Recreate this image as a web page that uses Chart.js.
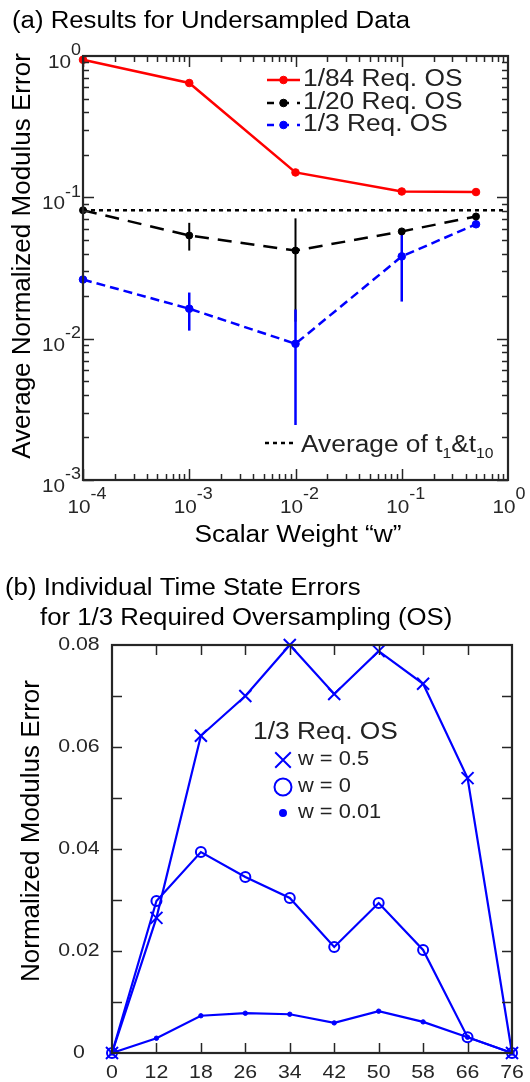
<!DOCTYPE html>
<html>
<head>
<meta charset="utf-8">
<script src="https://cdn.jsdelivr.net/npm/chart.js@4.4.1/dist/chart.umd.min.js"></script>
<style>
  html, body { margin: 0; padding: 0; background: #fff; }
  #page { position: relative; width: 530px; height: 1082px; overflow: hidden; }
  canvas { position: absolute; left: 0; }
</style>
</head>
<body>
<div id="page">
  <canvas id="chartA" width="530" height="560" style="top:0;width:530px;height:560px"></canvas>
  <canvas id="chartB" width="530" height="522" style="top:560px;width:530px;height:522px"></canvas>
</div>
<script>
// (a) average error vs scalar weight
const weights = [1e-4, 1e-3, 1e-2, 1e-1, 0.5];
const os84 = [0.94, 0.644, 0.150, 0.110, 0.109];
const os20 = [0.081, 0.0537, 0.042, 0.0574, 0.0732];
const os20Low = [null, 0.042, 0.0132, null, null];
const os20High = [null, 0.066, 0.071, null, null];
const os3 = [0.0262, 0.0163, 0.0092, 0.0382, 0.0645];
const os3Low = [null, 0.0114, 0.00245, 0.0183, null];
const os3High = [null, 0.0212, 0.0161, 0.0574, null];
const avgT1T10 = 0.081;
const decadesX = [1e-4, 1e-3, 1e-2, 1e-1, 1];
const decadesY = [1e-3, 1e-2, 1e-1, 1];

// (b) individual time state errors
const timeStates = ["0", "12", "18", "26", "34", "42", "50", "58", "66", "76"];
const errW05 = [0, 0.0265, 0.0622, 0.0700, 0.0800, 0.0704, 0.0788, 0.0724, 0.0539, 0];
const errW0 = [0, 0.0298, 0.0394, 0.0345, 0.0304, 0.0208, 0.0294, 0.0202, 0.0031, 0];
const errW001 = [0, 0.0029, 0.0073, 0.0078, 0.0076, 0.0059, 0.0082, 0.0061, 0.0031, 0];
const errTicks = [0, 0.02, 0.04, 0.06, 0.08];

const FONT = '"Liberation Sans", Arial, Helvetica, sans-serif';
const AXIS = "#262626";
const SX = 1.12;
Chart.defaults.font.family = FONT;

// draw horizontally widened text, returns width
function txt(ctx, s, x, y, size, align, color, sx) {
  sx = sx || SX;
  ctx.save();
  ctx.font = size + "px " + FONT;
  ctx.textBaseline = "middle";
  ctx.textAlign = "left";
  ctx.fillStyle = color || "#000";
  const w = ctx.measureText(s).width * sx;
  const x0 = align === "center" ? x - w / 2 : align === "right" ? x - w : x;
  ctx.translate(x0, y);
  ctx.scale(sx, 1);
  ctx.fillText(s, 0, 0);
  ctx.restore();
  return w;
}

function vtxt(ctx, s, x, y, size) {
  ctx.save();
  ctx.font = size + "px " + FONT;
  ctx.textBaseline = "middle";
  ctx.textAlign = "center";
  ctx.fillStyle = "#000";
  ctx.translate(x, y);
  ctx.rotate(-Math.PI / 2);
  ctx.fillText(s, 0, 0);
  ctx.restore();
}

function seg(ctx, x1, y1, x2, y2) {
  ctx.beginPath();
  ctx.moveTo(x1, y1);
  ctx.lineTo(x2, y2);
  ctx.stroke();
}

function measure(ctx, s, size) {
  ctx.save();
  ctx.font = size + "px " + FONT;
  const w = ctx.measureText(s).width * SX;
  ctx.restore();
  return w;
}

const errorBars = {
  id: "errorBars",
  beforeDatasetsDraw(chart) {
    const { ctx, scales: { x, y } } = chart;
    const sets = [
      { lo: os20Low, hi: os20High, color: "#000", width: 2 },
      { lo: os3Low, hi: os3High, color: "#0000ff", width: 2.5 },
    ];
    ctx.save();
    sets.forEach((s) => {
      ctx.strokeStyle = s.color;
      ctx.lineWidth = s.width;
      weights.forEach((w, i) => {
        if (s.lo[i] == null) return;
        const px = x.getPixelForValue(w);
        seg(ctx, px, y.getPixelForValue(s.lo[i]), px, y.getPixelForValue(s.hi[i]));
      });
    });
    ctx.restore();
  },
};

const frameA = {
  id: "frameA",
  afterDraw(chart) {
    const { ctx, chartArea: a, scales: { x, y } } = chart;
    const ds = chart.data.datasets;
    ctx.save();
    ctx.strokeStyle = AXIS;
    ctx.lineWidth = 1.5;
    for (let d = -4; d < 0; d++) {
      for (let m = 1; m <= 9; m++) {
        const px = Math.round(x.getPixelForValue(m * Math.pow(10, d))) + 0.5;
        const len = m === 1 ? 11 : 6;
        seg(ctx, px, a.bottom, px, a.bottom - len);
        seg(ctx, px, a.top, px, a.top + len);
      }
    }
    for (let d = -3; d < 0; d++) {
      for (let m = 1; m <= 9; m++) {
        const py = Math.round(y.getPixelForValue(m * Math.pow(10, d))) + 0.5;
        const len = m === 1 ? 11 : 6;
        seg(ctx, a.left, py, a.left + len, py);
        seg(ctx, a.right, py, a.right - len, py);
      }
    }
    ctx.lineWidth = 2.2;
    ctx.strokeRect(a.left, a.top, a.right - a.left, a.bottom - a.top);

    // tick labels 10^n
    decadesX.forEach((v) => {
      const px = x.getPixelForValue(v);
      const e = String(Math.round(Math.log10(v)));
      const w10 = measure(ctx, "10", 18.5);
      const x0 = px - 4 - w10 / 2;
      txt(ctx, "10", x0, a.bottom + 28, 18.5, "left", AXIS);
      txt(ctx, e, x0 + w10, a.bottom + 15, 16, "left", AXIS);
    });
    decadesY.forEach((v) => {
      const py = y.getPixelForValue(v);
      const e = String(Math.round(Math.log10(v)));
      const we = measure(ctx, e, 16);
      txt(ctx, e, 81, py - 5, 16, "right", AXIS);
      txt(ctx, "10", 81 - we, py + 7, 18.5, "right", AXIS);
    });

    // titles
    txt(ctx, "(a) Results for Undersampled Data", 12, 22, 23, "left", "#000");
    txt(ctx, "Scalar Weight \u201cw\u201d", 298, 536, 23.5, "center", "#000");
    vtxt(ctx, "Average Normalized Modulus Error", 23, 256, 26);

    // legend
    const rows = [80, 103, 125];
    [0, 1, 2].forEach((i) => {
      const d = ds[i];
      const yy = rows[i];
      ctx.strokeStyle = d.borderColor;
      ctx.lineWidth = d.borderWidth;
      ctx.setLineDash(i === 0 ? [] : [7, 8]);
      seg(ctx, 267, yy, 300, yy);
      ctx.setLineDash([]);
      ctx.fillStyle = d.pointBackgroundColor;
      ctx.strokeStyle = d.borderColor;
      ctx.lineWidth = 1;
      Chart.helpers.drawPoint(ctx, { pointStyle: "circle", radius: 3.8, borderWidth: 1, rotation: 0 }, 283.5, yy);
      txt(ctx, d.label, 303, yy, 23.5, "left", "#222");
    });
    const ay = 446;
    ctx.strokeStyle = "#000";
    ctx.lineWidth = 2.5;
    ctx.setLineDash([4, 4]);
    seg(ctx, 265, ay - 3, 297, ay - 3);
    ctx.setLineDash([]);
    let tx = 301;
    tx += txt(ctx, "Average of t", tx, ay, 23.5, "left", "#222");
    tx += txt(ctx, "1", tx, ay + 8, 14, "left", "#222");
    tx += txt(ctx, "&t", tx, ay, 23.5, "left", "#222");
    txt(ctx, "10", tx, ay + 8, 14, "left", "#222");
    ctx.restore();
  },
};

const frameB = {
  id: "frameB",
  afterDraw(chart) {
    const { ctx, chartArea: a, scales: { x, y } } = chart;
    ctx.save();
    ctx.strokeStyle = AXIS;
    ctx.lineWidth = 1.5;
    for (let k = 1; k < 8; k++) {
      const py = Math.round(y.getPixelForValue(k * 0.01)) + 0.5;
      seg(ctx, a.left, py, a.left + 10, py);
      seg(ctx, a.right, py, a.right - 10, py);
    }
    for (let i = 1; i < timeStates.length - 1; i++) {
      const px = Math.round(x.getPixelForValue(i)) + 0.5;
      seg(ctx, px, a.top, px, a.top + 10);
      seg(ctx, px, a.bottom, px, a.bottom - 10);
    }
    ctx.lineWidth = 2.2;
    ctx.strokeRect(a.left, a.top, a.right - a.left, a.bottom - a.top);

    errTicks.forEach((v) => {
      txt(ctx, String(v), 79, y.getPixelForValue(v), 19, "center", AXIS);
    });
    timeStates.forEach((s, i) => {
      txt(ctx, s, x.getPixelForValue(i), a.bottom + 20, 19, "center", AXIS);
    });

    txt(ctx, "(b) Individual Time State Errors", 5, 29, 23, "left", "#000");
    txt(ctx, "for 1/3 Required Oversampling (OS)", 40, 59, 23, "left", "#000");
    vtxt(ctx, "Normalized Modulus Error", 32, 271, 26);

    // legend
    const ds = chart.data.datasets;
    txt(ctx, "1/3 Req. OS", 253, 173, 23.5, "left", "#222");
    const rows = [200, 227, 253];
    const legendRadius = [11, 8.5, 3];
    ds.forEach((d, i) => {
      ctx.strokeStyle = d.borderColor;
      ctx.fillStyle = d.pointBackgroundColor;
      ctx.lineWidth = 2;
      Chart.helpers.drawPoint(ctx, { pointStyle: d.pointStyle, radius: legendRadius[i], borderWidth: 2, rotation: 0 }, 283, rows[i]);
      txt(ctx, d.label, 298, rows[i], 19.5, "left", "#222");
    });
    ctx.restore();
  },
};

new Chart(document.getElementById("chartA"), {
  type: "line",
  data: {
    datasets: [
      {
        label: "1/84 Req. OS",
        data: weights.map((w, i) => ({ x: w, y: os84[i] })),
        borderColor: "#ff0000",
        backgroundColor: "#ff0000",
        pointBackgroundColor: "#ff0000",
        pointBorderColor: "#ff0000",
        borderWidth: 2.5,
        pointRadius: 3.8,
        pointBorderWidth: 1,
        clip: false,
      },
      {
        label: "1/20 Req. OS",
        data: weights.map((w, i) => ({ x: w, y: os20[i] })),
        borderColor: "#000000",
        backgroundColor: "#000000",
        pointBackgroundColor: "#000000",
        pointBorderColor: "#000000",
        borderWidth: 2.5,
        borderDash: [14, 9],
        pointRadius: 3.5,
        pointBorderWidth: 1,
        clip: false,
      },
      {
        label: "1/3 Req. OS",
        data: weights.map((w, i) => ({ x: w, y: os3[i] })),
        borderColor: "#0000ff",
        backgroundColor: "#0000ff",
        pointBackgroundColor: "#0000ff",
        pointBorderColor: "#0000ff",
        borderWidth: 2.5,
        borderDash: [9, 5],
        pointRadius: 3.8,
        pointBorderWidth: 1,
        clip: false,
      },
      {
        label: "Average of t1&t10",
        data: [
          { x: decadesX[0], y: avgT1T10 },
          { x: decadesX[decadesX.length - 1], y: avgT1T10 },
        ],
        borderColor: "#000000",
        borderWidth: 2.5,
        borderDash: [4, 4],
        pointRadius: 0,
        clip: false,
      },
    ],
  },
  options: {
    responsive: false,
    animation: false,
    layout: { autoPadding: false, padding: { left: 83, right: 22, top: 56, bottom: 80 } },
    scales: {
      x: { type: "logarithmic", min: 1e-4, max: 1, display: false },
      y: { type: "logarithmic", min: 1e-3, max: 1, display: false },
    },
    plugins: {
      legend: { display: false },
      tooltip: { enabled: false },
    },
  },
  plugins: [errorBars, frameA],
});

new Chart(document.getElementById("chartB"), {
  type: "line",
  data: {
    labels: timeStates,
    datasets: [
      {
        label: "w = 0.5",
        data: errW05,
        borderColor: "#0000ff",
        pointBackgroundColor: "rgba(0,0,0,0)",
        pointBorderColor: "#0000ff",
        pointStyle: "crossRot",
        pointRadius: 8.5,
        pointBorderWidth: 2,
        borderWidth: 2.2,
        clip: false,
      },
      {
        label: "w = 0",
        data: errW0,
        borderColor: "#0000ff",
        pointBackgroundColor: "rgba(0,0,0,0)",
        pointBorderColor: "#0000ff",
        pointStyle: "circle",
        pointRadius: 5,
        pointBorderWidth: 2,
        borderWidth: 2.2,
        clip: false,
      },
      {
        label: "w = 0.01",
        data: errW001,
        borderColor: "#0000ff",
        pointBackgroundColor: "#0000ff",
        pointBorderColor: "#0000ff",
        pointStyle: "circle",
        pointRadius: 2.2,
        pointBorderWidth: 1,
        borderWidth: 2.2,
        clip: false,
      },
    ],
  },
  options: {
    responsive: false,
    animation: false,
    layout: { autoPadding: false, padding: { left: 112, right: 18, top: 85, bottom: 29 } },
    scales: {
      x: { type: "category", offset: false, display: false },
      y: { min: 0, max: 0.08, display: false },
    },
    plugins: {
      legend: { display: false },
      tooltip: { enabled: false },
    },
  },
  plugins: [frameB],
});
</script>
</body>
</html>
